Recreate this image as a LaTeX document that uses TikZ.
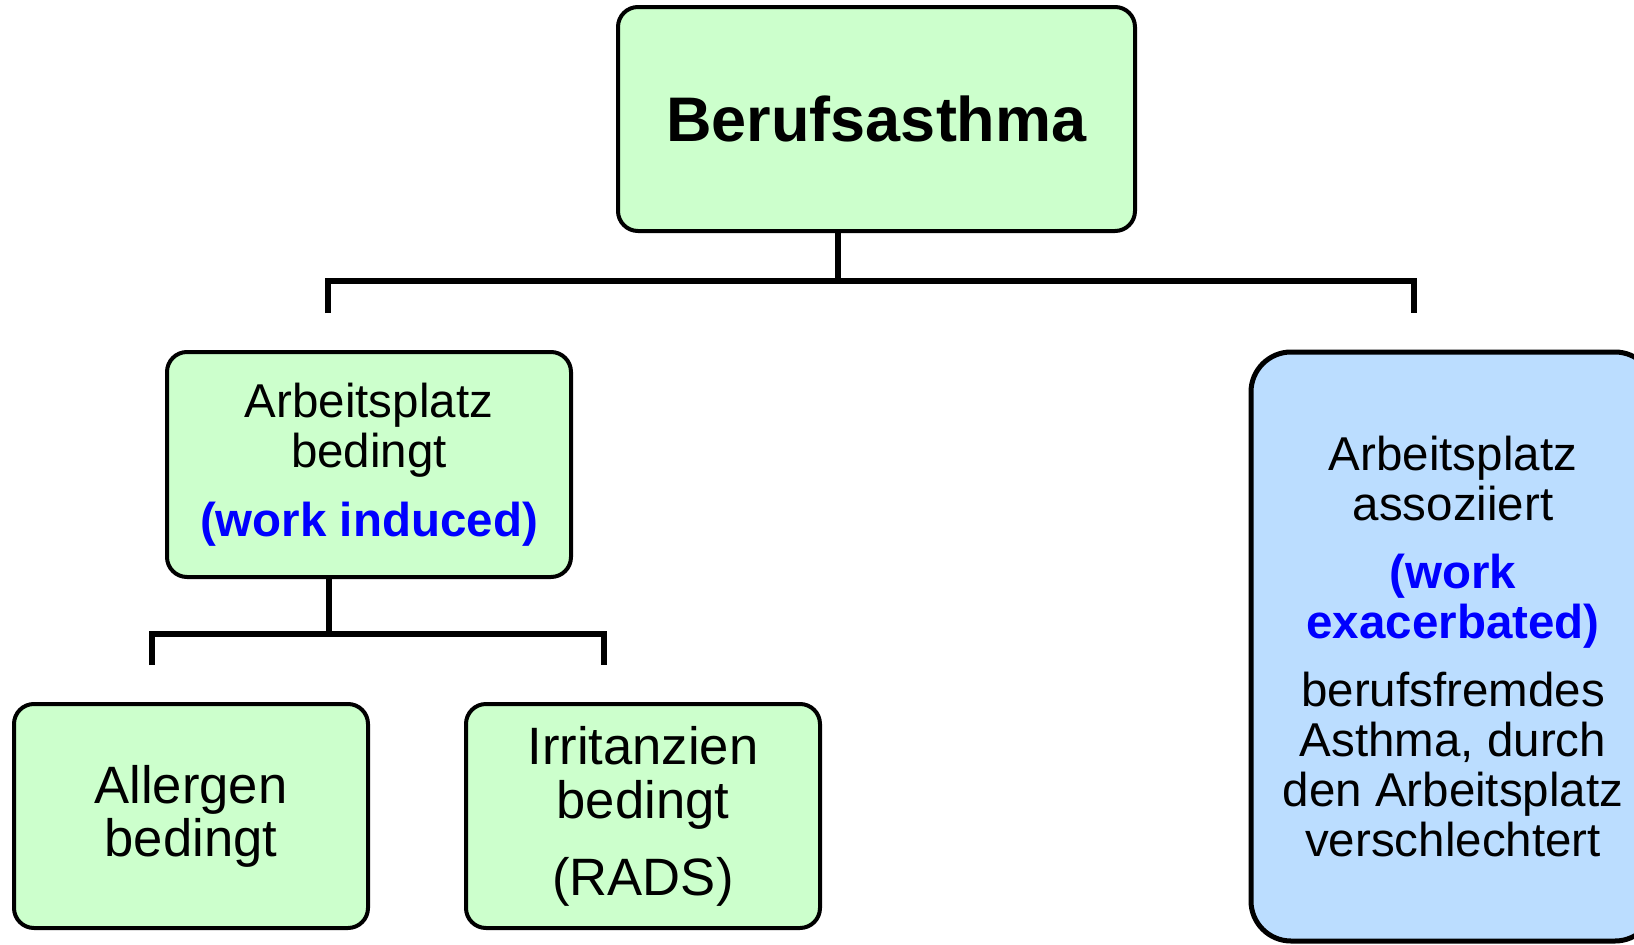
\documentclass[tikz,border=0pt]{standalone}
\usepackage{fontspec}
\setmainfont{Liberation Sans}
\usetikzlibrary{calc}
\definecolor{boxgreen}{HTML}{CCFFCC}
\definecolor{boxblue}{HTML}{BBDDFF}
\definecolor{workblue}{HTML}{0000FF}
\newcommand{\worktext}[1]{{\bfseries\color{workblue}#1}}

\begin{document}
\begin{tikzpicture}
                [x=1pt,y=-1pt,
                 box/.style={draw,line width=4pt,rounded corners=20pt,align=center,inner sep=0pt},
                 greenbox/.style={box,fill=boxgreen},
                 bluebox/.style={box,fill=boxblue,line width=5pt,rounded corners=40pt},
                 branch/.style={line width=6.5pt}]
                \useasboundingbox (0,0) rectangle (1634,945);
                \clip (0,0) rectangle (1634,945);

                \node[greenbox,minimum width=517pt,minimum height=224pt,
                      font=\fontsize{63}{70}\selectfont\bfseries] (berufs) at (876.5,119) {Berufsasthma};

                \node[greenbox,minimum width=404pt,minimum height=225pt,
                      font=\fontsize{47.5}{50}\selectfont] (induced) at (369,464.5)
                      {Arbeitsplatz\\bedingt\\[19pt]\worktext{(work induced)}};
                \node[bluebox,minimum width=404pt,minimum height=589pt,
                      font=\fontsize{47.5}{50}\selectfont] (exacerb) at (1453,646.5)
                      {Arbeitsplatz\\assoziiert\\[18pt]\worktext{(work}\\\worktext{exacerbated)}\\[18pt]berufsfremdes\\Asthma, durch\\den Arbeitsplatz\\verschlechtert};

                \node[greenbox,minimum width=354pt,minimum height=224pt,
                      font=\fontsize{52.6}{53}\selectfont] (allergen) at (191,816) {Allergen\\bedingt};
                \node[greenbox,minimum width=354pt,minimum height=224pt,
                      font=\fontsize{52.6}{54}\selectfont] (irritanz) at (643,816)
                      {Irritanzien\\bedingt\\[23pt](RADS)};

                % forks
                \coordinate (topfork) at (838,281);
                \coordinate (topL) at (328,313);
                \coordinate (topR) at (1414,313);
                \coordinate (subfork) at (329,634);
                \coordinate (subL) at (152,665);
                \coordinate (subR) at (604,665);

                \draw[branch] (berufs.south -| topfork) -- (topfork);
                \draw[branch] (topL) -- (topL |- topfork) -- (topR |- topfork) -- (topR);
                \draw[branch] (induced.south -| subfork) -- (subfork);
                \draw[branch] (subL) -- (subL |- subfork) -- (subR |- subfork) -- (subR);
            \end{tikzpicture}
\end{document}
